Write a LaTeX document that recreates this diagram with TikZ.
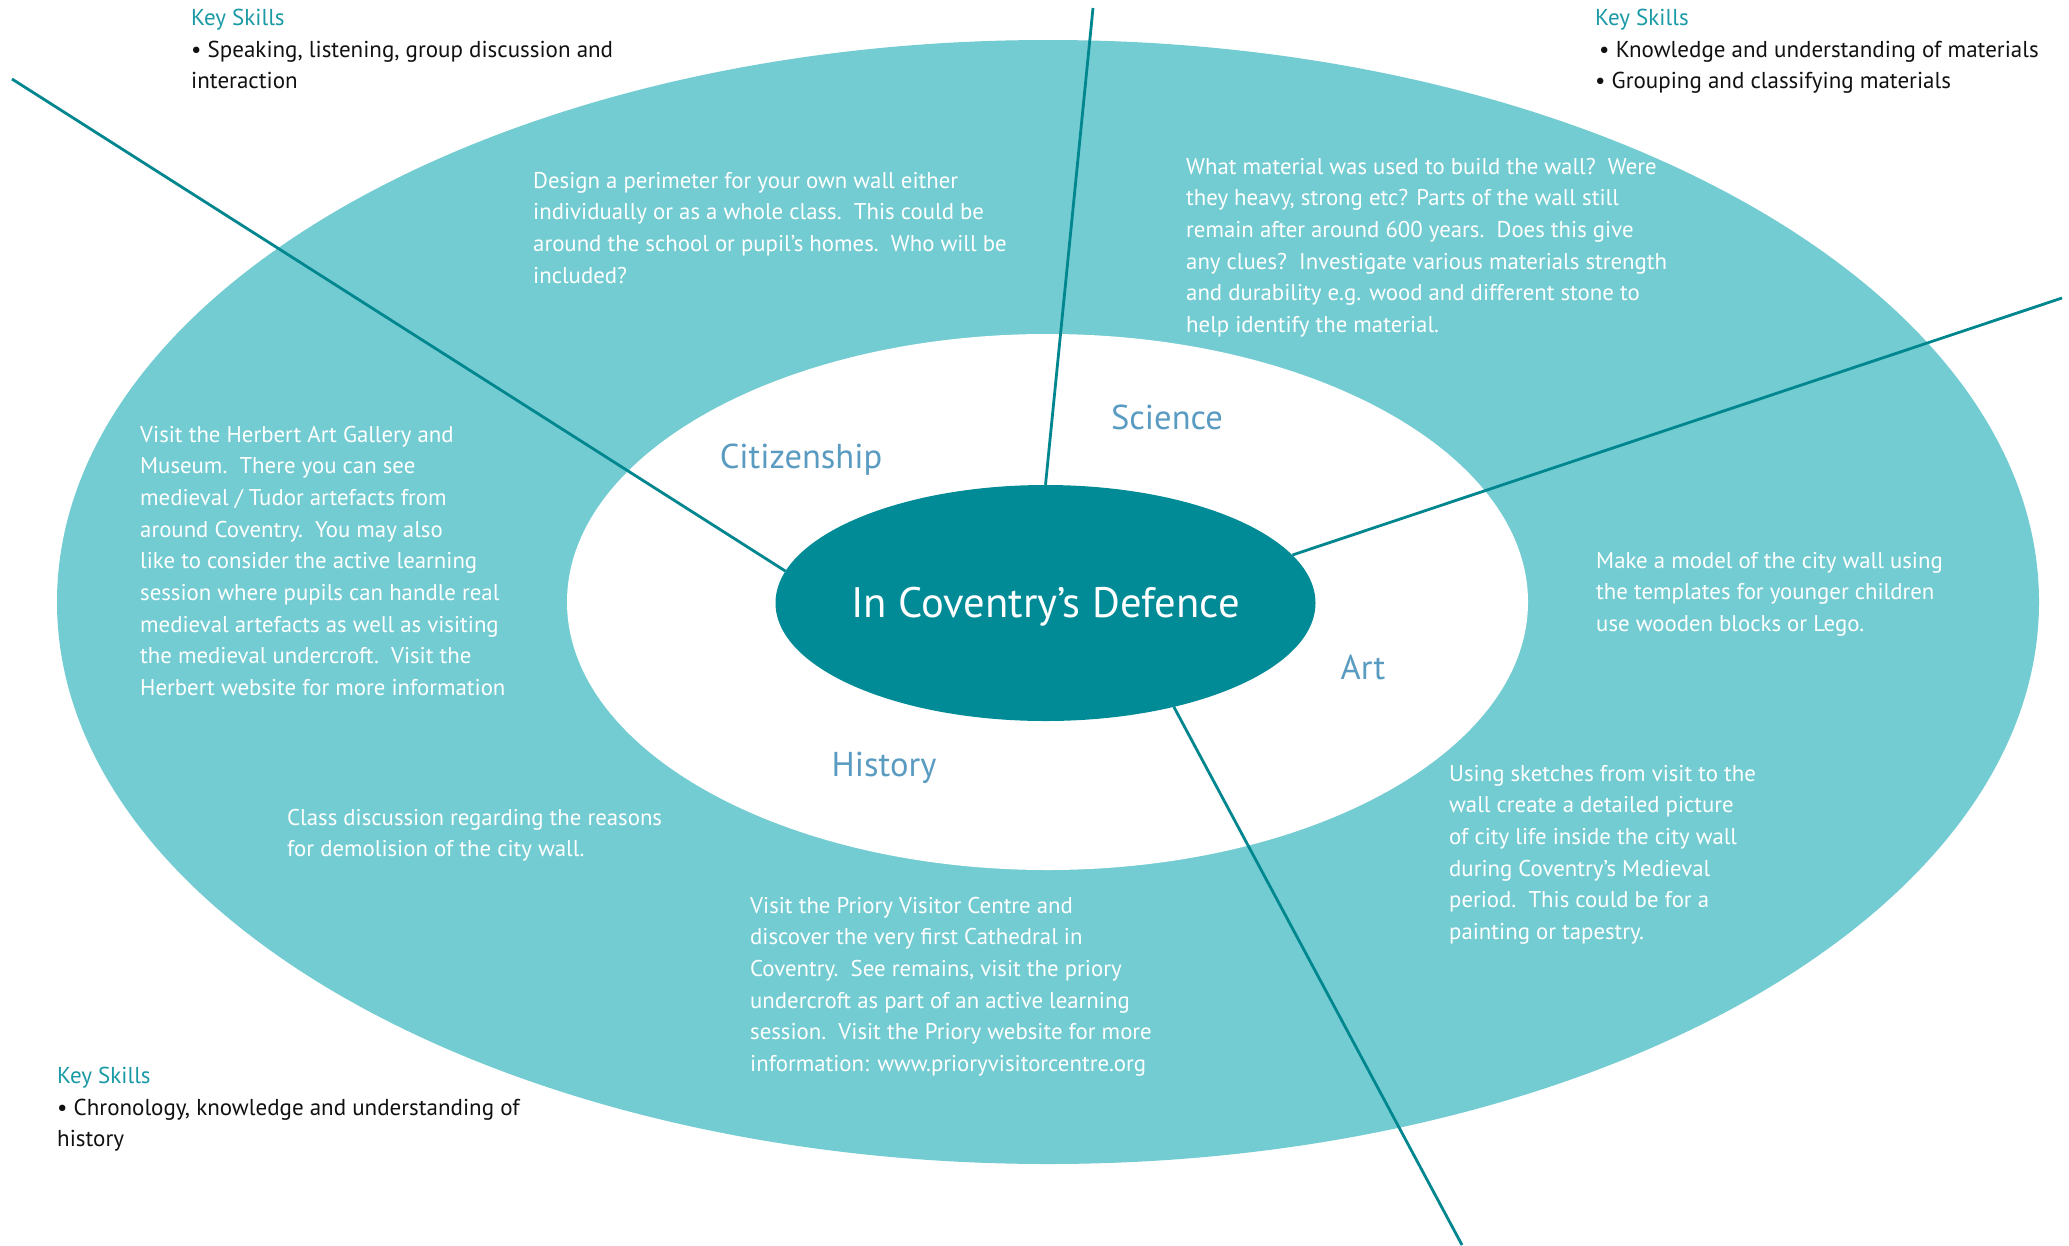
\documentclass[tikz,border=0pt]{standalone}
\usepackage{fontspec}
\setmainfont{PT Sans}
\usetikzlibrary{shapes.geometric}
\definecolor{outerc}{HTML}{73CCD2}
\definecolor{darkc}{HTML}{008B96}
\definecolor{linec}{HTML}{00868F}
\definecolor{subjc}{HTML}{5A9BC2}
\definecolor{keyc}{HTML}{1A9AA6}
\definecolor{bodyc}{HTML}{111111}
\begin{document}
\begin{tikzpicture}[x=1pt,y=-1pt,
  body/.style={anchor=base west, inner sep=0pt, align=left, text=white, font=\fontsize{22.8}{31.7}\selectfont},
  keyskill/.style={anchor=base west, inner sep=0pt, align=left, text=bodyc, font=\fontsize{23}{31.7}\selectfont},
  keytitle/.style={anchor=base west, inner sep=0pt, text=keyc, font=\fontsize{23}{31.7}\selectfont},
  subject/.style={anchor=base, inner sep=0pt, text=subjc, font=\fontsize{34.5}{40}\selectfont},
  spoke/.style={draw=linec, line width=2.8pt}]
\useasboundingbox[fill=white] (0,0) rectangle (2069,1245);
% rings
\fill[outerc] (1048,602) ellipse [x radius=991, y radius=562];
\fill[white] (1047.5,602) ellipse [x radius=480.5, y radius=268];
% centre
\node[ellipse, fill=darkc, minimum width=540pt, minimum height=236pt, inner sep=0pt]
      (c) at (1045.5,603) {};
\node[inner sep=0pt, text=white, font=\fontsize{42.6}{48}\selectfont, text height=29pt, text depth=0pt]
      (ctitle) at (c.center) {In Coventry’s Defence};
% spokes
\coordinate (s1) at (12,79);
\coordinate (s2) at (1093,8);
\coordinate (s3) at (2062,298);
\coordinate (s4) at (1462,1245);
\draw[spoke] (s1) -- (c.173);
\draw[spoke] (s2) -- (c.north);
\draw[spoke] (s3) -- (c.11);
\draw[spoke] (s4) -- (c.-39);
% subjects
\node[subject] (citi) at (801,468) {Citizenship};
\node[subject] (sci) at (1167,429) {Science};
\node[subject] (art) at (1363,679) {Art};
\node[subject] (hist) at (884,776) {History};
% key skills (anchors at the baseline of the last line)
\node[keytitle] (k1t) at (191,25) {Key Skills};
\node[keyskill] (k1) at (191,88.7) {• Speaking, listening, group discussion and\\interaction};
\node[keytitle] (k2t) at (1595,25) {Key Skills};
\node[keyskill] (k2) at (1595,88.7) {\hspace*{4pt}• Knowledge and understanding of materials\\• Grouping and classifying materials};
\node[keytitle] (k3t) at (57,1083) {Key Skills};
\node[keyskill] (k3) at (57,1146.7) {• Chronology, knowledge and understanding of\\history};
% activity texts
\node[body] (design) at (533,283.1) {Design a perimeter for your own wall either\\individually or as a whole class.\ \ This could be\\around the school or pupil’s homes.\ \ Who will be\\included?};
\node[body] (material) at (1186,332.5) {What material was used to build the wall?\ \ Were\\they heavy, strong etc? Parts of the wall still\\remain after around 600 years.\ \ Does this give\\any clues?\ \ Investigate various materials strength\\and durability e.g. wood and different stone to\\help identify the material.};
\node[body] (herbert) at (140,695.6) {Visit the Herbert Art Gallery and\\Museum.\ \ There you can see\\medieval / Tudor artefacts from\\around Coventry.\ \ You may also\\like to consider the active learning\\session where pupils can handle real\\medieval artefacts as well as visiting\\the medieval undercroft.\ \ Visit the\\Herbert website for more information};
\node[body] (model) at (1596,631.4) {Make a model of the city wall using\\the templates for younger children\\use wooden blocks or Lego.};
\node[body] (discuss) at (287,856.7) {Class discussion regarding the reasons\\for demolision of the city wall.};
\node[body] (sketch) at (1449,939.5) {Using sketches from visit to the\\wall create a detailed picture\\of city life inside the city wall\\during Coventry’s Medieval\\period.\ \ This could be for a\\painting or tapestry.};
\node[body] (priory) at (750,1071.5) {Visit the Priory Visitor Centre and\\discover the very first Cathedral in\\Coventry.\ \ See remains, visit the priory\\undercroft as part of an active learning\\session.\ \ Visit the Priory website for more\\information: www.prioryvisitorcentre.org};
\end{tikzpicture}
\end{document}
